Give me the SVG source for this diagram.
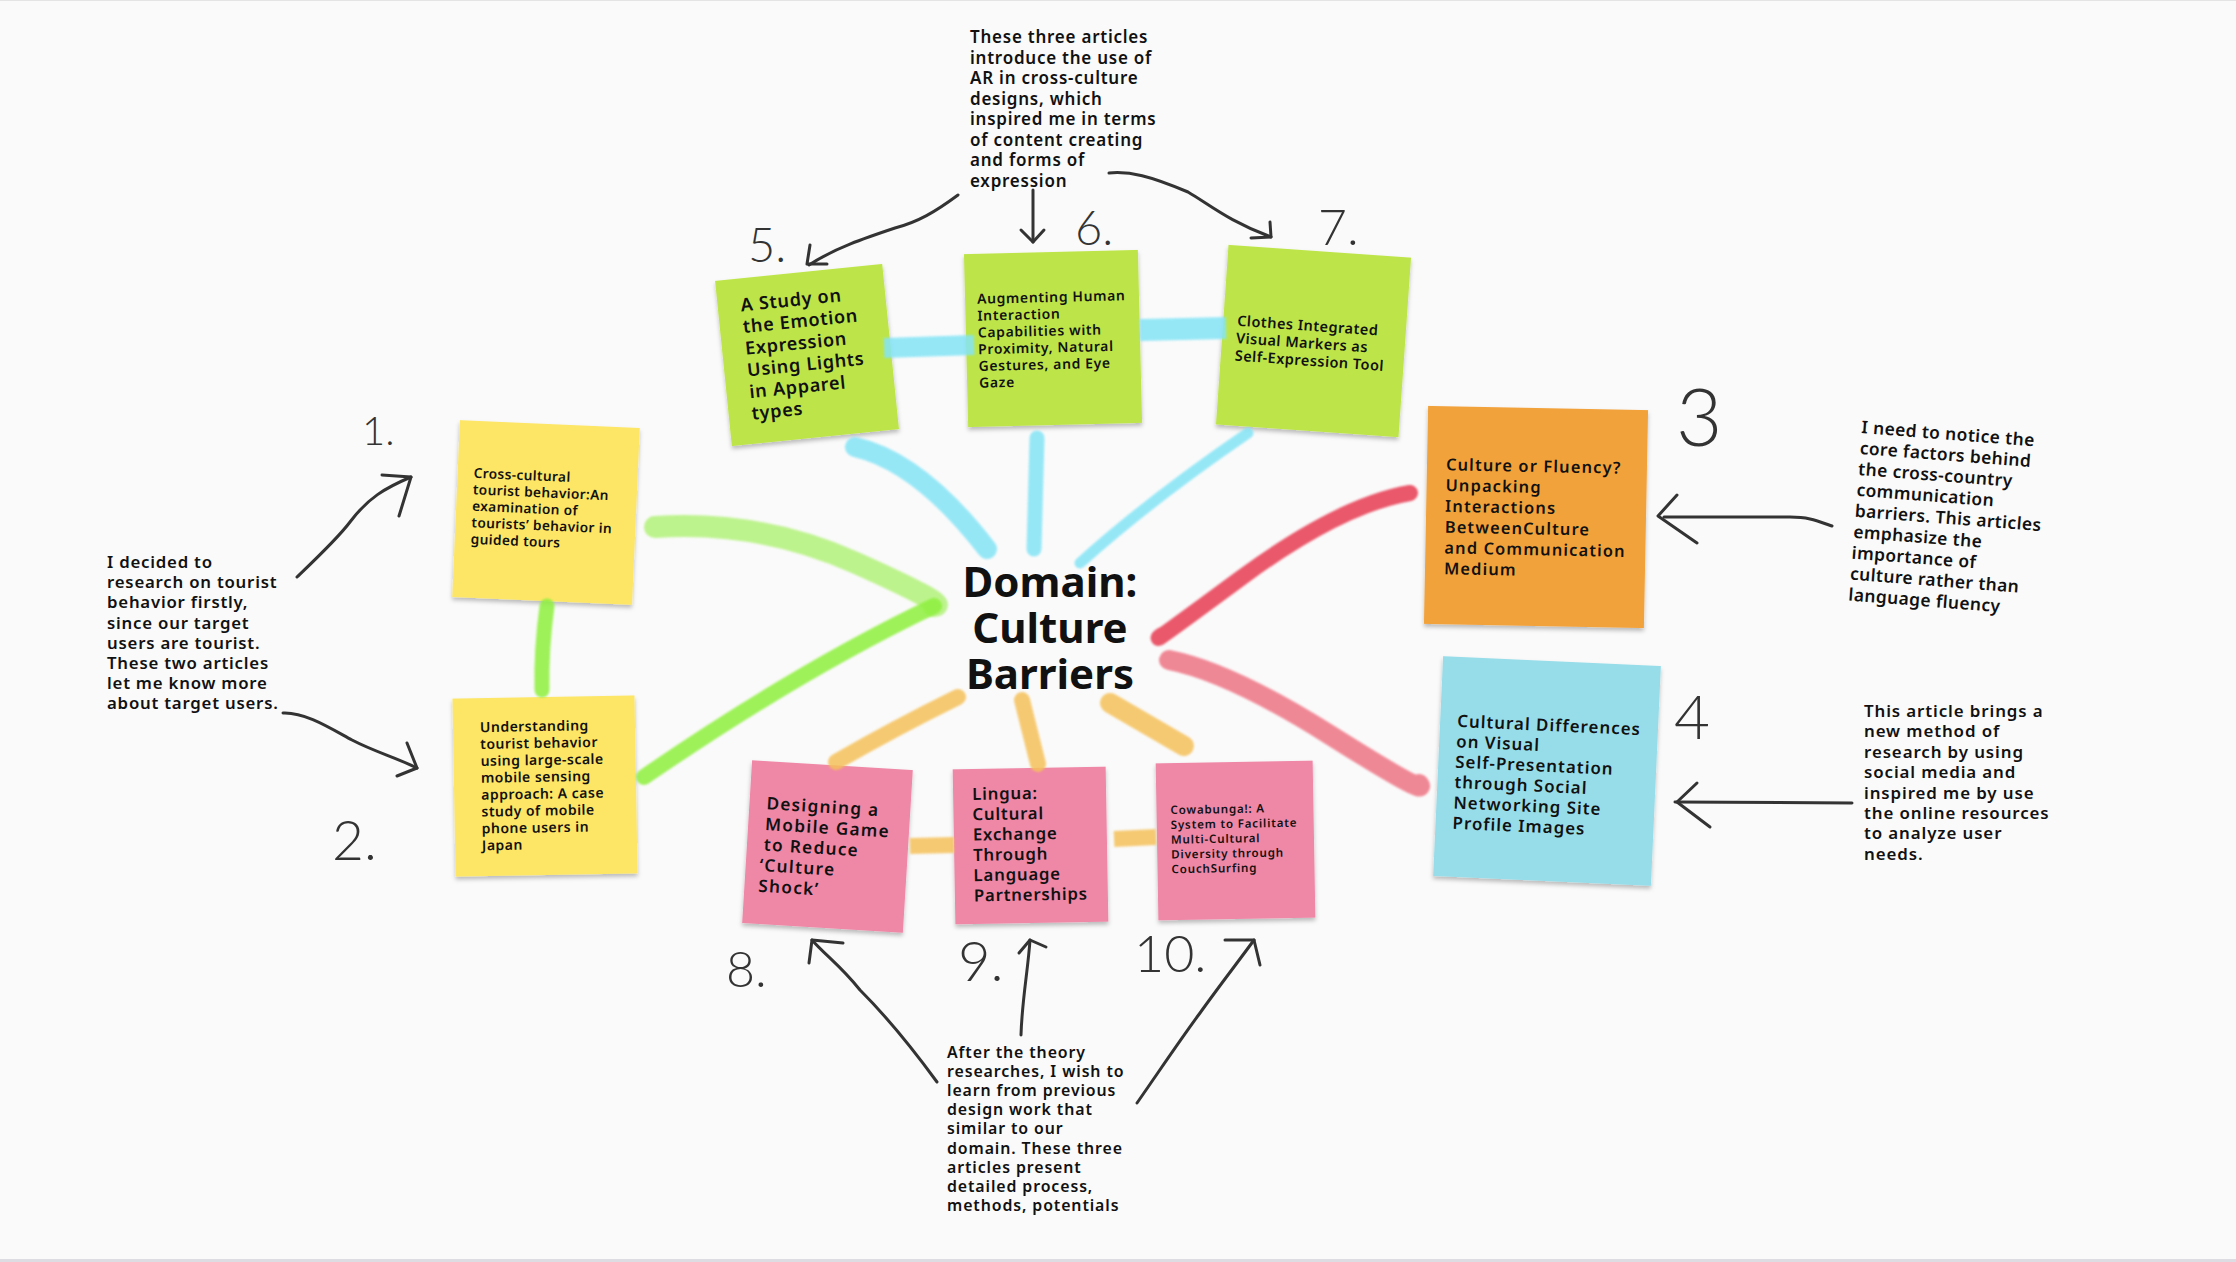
<svg xmlns="http://www.w3.org/2000/svg" width="2236" height="1262" viewBox="0 0 2236 1262">
<defs>
<filter id="sh" x="-10%" y="-10%" width="120%" height="125%">
<feDropShadow dx="0" dy="3" stdDeviation="2" flood-color="#000" flood-opacity="0.25"/>
</filter>
<filter id="soft" filterUnits="userSpaceOnUse" x="0" y="0" width="2236" height="1262">
<feGaussianBlur stdDeviation="1.2"/>
</filter>
<style>
.bg{fill:#fafafa}
.nt{font-family:"Noto Sans","Open Sans",sans-serif;font-weight:600;fill:#111}
.an{font-family:"Noto Sans","Open Sans",sans-serif;font-weight:600;fill:#111}
.ctr{font-family:"Noto Sans","Open Sans",sans-serif;font-weight:700;fill:#111;font-size:42px;text-anchor:middle}
.num{font-family:Lato,"DejaVu Sans",sans-serif;font-weight:300;fill:#333}
.yel{fill:#fde666}
.grn{fill:#bde54a}
.org{fill:#f2a23a}
.blu{fill:#97dde9}
.pnk{fill:#ef87a7}
.arw{fill:none;stroke:#333;stroke-width:3;stroke-linecap:round;stroke-linejoin:round}
.hl{fill:none;stroke-linecap:round;stroke-linejoin:round;filter:url(#soft)}
.fl{stroke-linecap:butt}
.hb{stroke:#84e4f6;opacity:0.85}
.hg1{stroke:#b2f27a;opacity:0.85}
.hg2{stroke:#8ef03c;opacity:0.85}
.hr1{stroke:#e8475b;opacity:0.9}
.hr2{stroke:#ee7584;opacity:0.85}
.ho{stroke:#f5c15a;opacity:0.85}
</style>
</defs>
<rect class="bg" x="0" y="0" width="2236" height="1262"/>
<rect x="0" y="0" width="2236" height="1" fill="#e4e4e4"/>
<rect x="0" y="1259" width="2236" height="3" fill="#dcdce2"/>

<g id="nodes">
<g id="note1" transform="translate(546,512) rotate(2.5)">
<rect class="yel" x="-90" y="-88" width="180" height="177" filter="url(#sh)"/>
<text class="nt" font-size="13.7" letter-spacing="0.36" x="-74" y="-31"><tspan x="-74">Cross-cultural</tspan><tspan x="-74" dy="16.5">tourist behavior:An</tspan><tspan x="-74" dy="16.5">examination of</tspan><tspan x="-74" dy="16.5">tourists’ behavior in</tspan><tspan x="-74" dy="16.5">guided tours</tspan></text>
</g>
<g id="note2" transform="translate(545,786) rotate(-1)">
<rect class="yel" x="-91" y="-89" width="182" height="178" filter="url(#sh)"/>
<text class="nt" font-size="14" letter-spacing="0.48" x="-64" y="-55"><tspan x="-64">Understanding</tspan><tspan x="-64" dy="16.9">tourist behavior</tspan><tspan x="-64" dy="16.9">using large-scale</tspan><tspan x="-64" dy="16.9">mobile sensing</tspan><tspan x="-64" dy="16.9">approach: A case</tspan><tspan x="-64" dy="16.9">study of mobile</tspan><tspan x="-64" dy="16.9">phone users in</tspan><tspan x="-64" dy="16.9">Japan</tspan></text>
</g>
<g id="note5" transform="translate(807,355) rotate(-5.8)">
<rect class="grn" x="-84" y="-83" width="168" height="166" filter="url(#sh)"/>
<text class="nt" font-size="18.1" letter-spacing="0.7" x="-61" y="-50"><tspan x="-61">A Study on</tspan><tspan x="-61" dy="21.8">the Emotion</tspan><tspan x="-61" dy="21.8">Expression</tspan><tspan x="-61" dy="21.8">Using Lights</tspan><tspan x="-61" dy="21.8">in Apparel</tspan><tspan x="-61" dy="21.8">types</tspan></text>
</g>
<g id="note6" transform="translate(1053,338) rotate(-1.4)">
<rect class="grn" x="-87" y="-86" width="174" height="173" filter="url(#sh)"/>
<text class="nt" font-size="13.9" letter-spacing="0.68" x="-75" y="-36"><tspan x="-75">Augmenting Human</tspan><tspan x="-75" dy="16.8">Interaction</tspan><tspan x="-75" dy="16.8">Capabilities with</tspan><tspan x="-75" dy="16.8">Proximity, Natural</tspan><tspan x="-75" dy="16.8">Gestures, and Eye</tspan><tspan x="-75" dy="16.8">Gaze</tspan></text>
</g>
<g id="note7" transform="translate(1313,341) rotate(4)">
<rect class="grn" x="-91" y="-90" width="183" height="180" filter="url(#sh)"/>
<text class="nt" font-size="14.5" letter-spacing="0.48" x="-77" y="-10"><tspan x="-77">Clothes Integrated</tspan><tspan x="-77" dy="17.5">Visual Markers as</tspan><tspan x="-77" dy="17.5">Self-Expression Tool</tspan></text>
</g>
<g id="note3" transform="translate(1536,517) rotate(1.1)">
<rect class="org" x="-110" y="-109" width="220" height="218" filter="url(#sh)"/>
<text class="nt" font-size="16.4" letter-spacing="1.15" x="-91" y="-45"><tspan x="-91">Culture or Fluency?</tspan><tspan x="-91" dy="20.8">Unpacking</tspan><tspan x="-91" dy="20.8">Interactions</tspan><tspan x="-91" dy="20.8">BetweenCulture</tspan><tspan x="-91" dy="20.8">and Communication</tspan><tspan x="-91" dy="20.8">Medium</tspan></text>
</g>
<g id="note4" transform="translate(1547,771) rotate(2.6)">
<rect class="blu" x="-109" y="-110" width="218" height="220" filter="url(#sh)"/>
<text class="nt" font-size="16.9" letter-spacing="1" x="-92" y="-40"><tspan x="-92">Cultural Differences</tspan><tspan x="-92" dy="20.4">on Visual</tspan><tspan x="-92" dy="20.4">Self-Presentation</tspan><tspan x="-92" dy="20.4">through Social</tspan><tspan x="-92" dy="20.4">Networking Site</tspan><tspan x="-92" dy="20.4">Profile Images</tspan></text>
</g>
<g id="note8" transform="translate(827,846) rotate(3.5)">
<rect class="pnk" x="-80" y="-81" width="161" height="163" filter="url(#sh)"/>
<text class="nt" font-size="17.2" letter-spacing="1.3" x="-63" y="-33"><tspan x="-63">Designing a</tspan><tspan x="-63" dy="20.7">Mobile Game</tspan><tspan x="-63" dy="20.7">to Reduce</tspan><tspan x="-66" dy="20.7">‘Culture</tspan><tspan x="-66" dy="20.7">Shock’</tspan></text>
</g>
<g id="note9" transform="translate(1030,845) rotate(-1)">
<rect class="pnk" x="-76" y="-77" width="153" height="155" filter="url(#sh)"/>
<text class="nt" font-size="16.8" letter-spacing="0.78" x="-57" y="-46"><tspan x="-57">Lingua:</tspan><tspan x="-57" dy="20.3">Cultural</tspan><tspan x="-57" dy="20.3">Exchange</tspan><tspan x="-57" dy="20.3">Through</tspan><tspan x="-57" dy="20.3">Language</tspan><tspan x="-57" dy="20.3">Partnerships</tspan></text>
</g>
<g id="note10" transform="translate(1235,840) rotate(-1)">
<rect class="pnk" x="-78" y="-78" width="157" height="157" filter="url(#sh)"/>
<text class="nt" font-size="11.6" letter-spacing="0.8" x="-64" y="-27"><tspan x="-64">Cowabunga!: A</tspan><tspan x="-64" dy="14.8">System to Facilitate</tspan><tspan x="-64" dy="14.8">Multi-Cultural</tspan><tspan x="-64" dy="14.8">Diversity through</tspan><tspan x="-64" dy="14.8">CouchSurfing</tspan></text>
</g>
<g id="center">
<text class="ctr" x="1050" y="597">Domain:</text>
<text class="ctr" x="1050" y="643">Culture</text>
<text class="ctr" x="1050" y="689">Barriers</text>
</g>
<g id="note-top">
<text class="an" font-size="17" letter-spacing="0.76" x="970" y="43"><tspan x="970">These three articles</tspan><tspan x="970" dy="20.5">introduce the use of</tspan><tspan x="970" dy="20.5">AR in cross-culture</tspan><tspan x="970" dy="20.5">designs, which</tspan><tspan x="970" dy="20.5">inspired me in terms</tspan><tspan x="970" dy="20.5">of content creating</tspan><tspan x="970" dy="20.5">and forms of</tspan><tspan x="970" dy="20.5">expression</tspan></text>
</g>
<g id="note-left">
<text class="an" font-size="16.8" letter-spacing="0.78" x="107" y="568"><tspan x="107">I decided to</tspan><tspan x="107" dy="20.2">research on tourist</tspan><tspan x="107" dy="20.2">behavior firstly,</tspan><tspan x="107" dy="20.2">since our target</tspan><tspan x="107" dy="20.2">users are tourist.</tspan><tspan x="107" dy="20.2">These two articles</tspan><tspan x="107" dy="20.2">let me know more</tspan><tspan x="107" dy="20.2">about target users.</tspan></text>
</g>
<g id="note-right1" transform="translate(1861,433) rotate(4.4)">
<text class="an" font-size="17.4" letter-spacing="0.4" x="0" y="0"><tspan x="0">I need to notice the</tspan><tspan x="0" dy="21">core factors behind</tspan><tspan x="0" dy="21">the cross-country</tspan><tspan x="0" dy="21">communication</tspan><tspan x="0" dy="21">barriers. This articles</tspan><tspan x="0" dy="21">emphasize the</tspan><tspan x="0" dy="21">importance of</tspan><tspan x="0" dy="21">culture rather than</tspan><tspan x="0" dy="21">language fluency</tspan></text>
</g>
<g id="note-right2">
<text class="an" font-size="16.9" letter-spacing="0.89" x="1864" y="717"><tspan x="1864">This article brings a</tspan><tspan x="1864" dy="20.4">new method of</tspan><tspan x="1864" dy="20.4">research by using</tspan><tspan x="1864" dy="20.4">social media and</tspan><tspan x="1864" dy="20.4">inspired me by use</tspan><tspan x="1864" dy="20.4">the online resources</tspan><tspan x="1864" dy="20.4">to analyze user</tspan><tspan x="1864" dy="20.4">needs.</tspan></text>
</g>
<g id="note-bottom">
<text class="an" font-size="15.9" letter-spacing="0.89" x="947" y="1058"><tspan x="947">After the theory</tspan><tspan x="947" dy="19.1">researches, I wish to</tspan><tspan x="947" dy="19.1">learn from previous</tspan><tspan x="947" dy="19.1">design work that</tspan><tspan x="947" dy="19.1">similar to our</tspan><tspan x="947" dy="19.1">domain. These three</tspan><tspan x="947" dy="19.1">articles present</tspan><tspan x="947" dy="19.1">detailed process,</tspan><tspan x="947" dy="19.1">methods, potentials</tspan></text>
</g>
<g id="numbers">
<text class="num" font-size="40" x="362" y="445">1.</text>
<text class="num" font-size="55" x="332" y="860">2.</text>
<text class="num" font-size="80" x="1676" y="446">3</text>
<text class="num" font-size="62" x="1674" y="739">4</text>
<text class="num" font-size="47" x="748" y="262">5.</text>
<text class="num" font-size="47" x="1075" y="245">6.</text>
<text class="num" font-size="50" x="1318" y="245">7.</text>
<text class="num" font-size="50" x="726" y="987">8.</text>
<text class="num" font-size="56" x="958" y="981">9.</text>
<text class="num" font-size="52" x="1134" y="972">10.</text>
</g>
</g>

<g id="connectors">
<path class="hl hb fl" stroke-width="20" d="M884,348 L974,345"/>
<path class="hl hb fl" stroke-width="22" d="M1140,330 L1226,328"/>
<path class="hl hb" stroke-width="20" d="M855,447 Q920,462 987,549"/>
<path class="hl hb" stroke-width="15" d="M1037,438 L1034,549"/>
<path class="hl hb" stroke-width="11" d="M1248,433 Q1150,500 1080,563"/>
<path class="hl hg1" stroke-width="22" d="M655,527 Q760,520 856,563 T934,606"/>
<path class="hl hg2" stroke-width="16" d="M934,606 Q800,670 644,777"/>
<path class="hl hg2" stroke-width="15" d="M547,606 Q541,650 542,690"/>
<path class="hl hr1" stroke-width="16" d="M1410,493 Q1340,505 1241,578 T1162,635"/>
<path class="hl hr2" stroke-width="20" d="M1169,660 Q1230,672 1330,735 T1419,784"/>
<path class="hl ho" stroke-width="16" d="M958,697 Q895,728 836,762"/>
<path class="hl ho" stroke-width="16" d="M1022,700 L1038,764"/>
<path class="hl ho" stroke-width="20" d="M1110,703 L1184,746"/>
<path class="hl ho fl" stroke-width="16" d="M910,846 L954,845"/>
<path class="hl ho fl" stroke-width="16" d="M1114,839 L1156,837"/>

<path class="arw" d="M297,577 C320,555 338,538 350,522 C368,498 385,488 411,477"/>
<path class="arw" d="M382,475 L411,477 L399,516"/>
<path class="arw" d="M283,713 C305,712 330,728 352,740 C375,752 395,757 417,768"/>
<path class="arw" d="M407,743 L417,768 L397,776"/>
<path class="arw" d="M958,195 C935,212 918,222 895,228 C865,238 835,248 809,265"/>
<path class="arw" d="M810,245 L807,264 L827,264"/>
<path class="arw" d="M1033,190 L1033,242"/>
<path class="arw" d="M1021,230 L1033,242 L1044,230"/>
<path class="arw" d="M1109,173 C1130,171 1150,176 1188,192 C1210,205 1230,222 1271,237"/>
<path class="arw" d="M1251,238 L1271,237 L1270,222"/>
<path class="arw" d="M1832,526 C1815,520 1808,517 1790,517 L1664,517"/>
<path class="arw" d="M1677,495 L1658,516 L1697,543"/>
<path class="arw" d="M1852,803 L1675,802"/>
<path class="arw" d="M1697,783 L1677,802 L1710,827"/>
<path class="arw" d="M937,1082 C910,1045 885,1015 860,990 C840,965 825,955 812,940"/>
<path class="arw" d="M809,963 L812,940 L843,943"/>
<path class="arw" d="M1021,1035 C1022,1000 1028,970 1030,940"/>
<path class="arw" d="M1019,953 L1030,940 L1046,947"/>
<path class="arw" d="M1137,1103 C1160,1070 1180,1040 1200,1013 C1220,985 1238,962 1254,940"/>
<path class="arw" d="M1225,940 L1254,940 L1260,965"/>
</g>
</svg>
